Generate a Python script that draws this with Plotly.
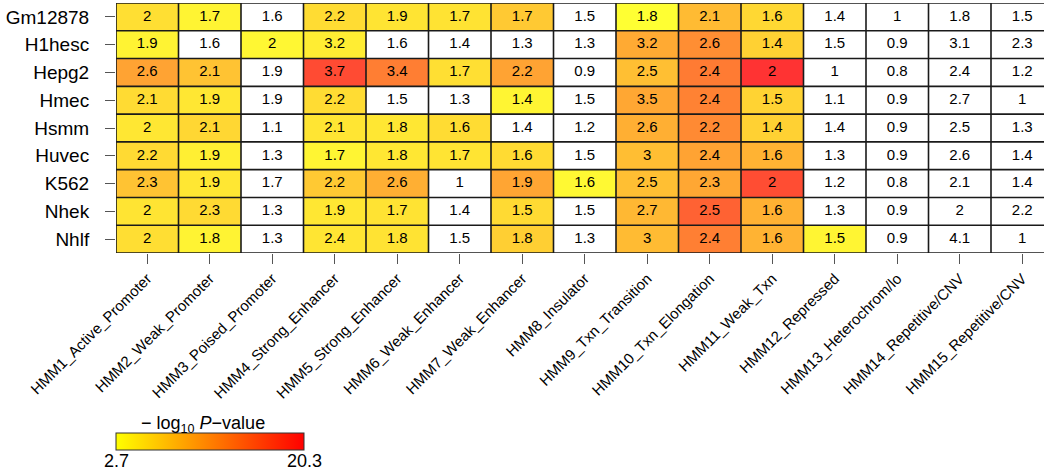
import plotly.graph_objects as go

# Cell lines (rows, top to bottom) and chromatin states (columns)
cell_lines = ["Gm12878", "H1hesc", "Hepg2", "Hmec", "Hsmm", "Huvec", "K562", "Nhek", "Nhlf"]
states = [
    "HMM1_Active_Promoter", "HMM2_Weak_Promoter", "HMM3_Poised_Promoter",
    "HMM4_Strong_Enhancer", "HMM5_Strong_Enhancer", "HMM6_Weak_Enhancer",
    "HMM7_Weak_Enhancer", "HMM8_Insulator", "HMM9_Txn_Transition",
    "HMM10_Txn_Elongation", "HMM11_Weak_Txn", "HMM12_Repressed",
    "HMM13_Heterochrom/lo", "HMM14_Repetitive/CNV", "HMM15_Repetitive/CNV",
]

# Fold enrichment printed in each cell
enrichment = [
    [2.0, 1.7, 1.6, 2.2, 1.9, 1.7, 1.7, 1.5, 1.8, 2.1, 1.6, 1.4, 1.0, 1.8, 1.5],
    [1.9, 1.6, 2.0, 3.2, 1.6, 1.4, 1.3, 1.3, 3.2, 2.6, 1.4, 1.5, 0.9, 3.1, 2.3],
    [2.6, 2.1, 1.9, 3.7, 3.4, 1.7, 2.2, 0.9, 2.5, 2.4, 2.0, 1.0, 0.8, 2.4, 1.2],
    [2.1, 1.9, 1.9, 2.2, 1.5, 1.3, 1.4, 1.5, 3.5, 2.4, 1.5, 1.1, 0.9, 2.7, 1.0],
    [2.0, 2.1, 1.1, 2.1, 1.8, 1.6, 1.4, 1.2, 2.6, 2.2, 1.4, 1.4, 0.9, 2.5, 1.3],
    [2.2, 1.9, 1.3, 1.7, 1.8, 1.7, 1.6, 1.5, 3.0, 2.4, 1.6, 1.3, 0.9, 2.6, 1.4],
    [2.3, 1.9, 1.7, 2.2, 2.6, 1.0, 1.9, 1.6, 2.5, 2.3, 2.0, 1.2, 0.8, 2.1, 1.4],
    [2.0, 2.3, 1.3, 1.9, 1.7, 1.4, 1.5, 1.5, 2.7, 2.5, 1.6, 1.3, 0.9, 2.0, 2.2],
    [2.0, 1.8, 1.3, 2.4, 1.8, 1.5, 1.8, 1.3, 3.0, 2.4, 1.6, 1.5, 0.9, 4.1, 1.0],
]

# -log10 P-value of significant cells (None = not significant, left white)
N = None
neglog10p = [
    [5.4, 3.6, N, 5.7, 5.0, 5.1, 7.3, N, 2.7, 8.6, 6.0, N, N, N, N],
    [3.7, N, 3.3, 4.2, N, N, N, N, 10.0, 12.4, 6.6, N, N, N, N],
    [10.6, 7.8, N, 18.2, 13.8, 5.4, 10.6, N, 8.2, 14.1, 20.3, N, N, N, N],
    [5.8, 4.7, N, 5.7, N, N, 3.5, N, 10.3, 13.5, 6.4, N, N, N, N],
    [4.7, 6.1, N, 4.9, 4.8, 5.7, N, N, 9.5, 12.8, 6.6, N, N, N, N],
    [5.9, 4.0, N, 3.5, 4.8, 5.0, 5.8, N, 8.3, 10.6, 9.2, N, N, N, N],
    [7.8, 4.8, N, 7.3, 9.6, N, 10.4, 3.2, 8.2, 10.2, 18.0, N, N, N, N],
    [5.0, 5.9, N, 4.7, 5.1, N, 5.9, N, 8.8, 16.2, 9.4, N, N, N, N],
    [5.5, 3.7, N, 4.9, 5.1, N, 6.8, N, 8.6, 13.7, 9.2, 3.5, N, N, N],
]

colorbar_ticks = [2.7, 20.3]
colorbar_title = "− log<sub>10</sub> <i>P</i>−value"

FONT = "Liberation Sans, Arial, sans-serif"
W, H = 1044, 472
M_L, M_T, M_B = 116, 3, 219
COL_W = 62.5   # pixel width of one column
CB_LEN = 188   # colour bar length in pixels
CB_THICK = 17  # colour bar thickness in pixels
CB_TOP = 433   # colour bar top edge, pixels from the top of the figure

n_rows, n_cols = len(cell_lines), len(states)
plot_w = W - M_L
plot_h = H - M_T - M_B
x_hi = -0.5 + plot_w / COL_W  # last column runs past the right edge


def paper_y(px):
    """Convert a pixel row (from figure top) to paper y."""
    return (H - M_B - px) / plot_h


cb_right = CB_LEN / plot_w

fig = go.Figure()

fig.add_trace(go.Heatmap(
    z=neglog10p,
    x=list(range(n_cols)),
    y=list(range(n_rows)),
    zmin=colorbar_ticks[0], zmax=colorbar_ticks[-1],
    colorscale=[[0, "#FFFF00"], [1, "#FF0000"]],
    opacity=0.8,
    hoverongaps=False,
    colorbar=dict(
        orientation="h",
        lenmode="pixels", len=CB_LEN,
        thickness=CB_THICK,
        x=0, xanchor="left", xpad=0,
        y=paper_y(CB_TOP), yanchor="top", ypad=0,
        outlinecolor="#333333", outlinewidth=1,
        tickvals=colorbar_ticks,
        ticks="", showticklabels=False,
    ),
))

# Enrichment labels on every cell
tx, ty, tt = [], [], []
for r in range(n_rows):
    for c in range(n_cols):
        tx.append(c)
        ty.append(r)
        tt.append(f"{enrichment[r][c]:g}")
fig.add_trace(go.Scatter(
    x=tx, y=ty, text=tt, mode="text",
    textfont=dict(family=FONT, size=15, color="black"),
    hoverinfo="skip", showlegend=False,
))

# Cell borders
shapes = []
for c in range(n_cols + 1):
    shapes.append(dict(type="line", xref="x", yref="y",
                       x0=c - 0.5, x1=c - 0.5, y0=-0.5, y1=n_rows - 0.5,
                       line=dict(color="#1a1a1a", width=1.6), layer="above"))
for r in range(n_rows + 1):
    shapes.append(dict(type="line", xref="x", yref="y",
                       x0=-0.5, x1=n_cols - 0.5, y0=r - 0.5, y1=r - 0.5,
                       line=dict(color="#1a1a1a", width=1.6), layer="above"))

# Colour bar title and end labels
annotations = [
    dict(text=colorbar_title, xref="paper", yref="paper",
         x=cb_right / 2 - 0.0075, y=paper_y(CB_TOP + 5), xanchor="center", yanchor="bottom",
         showarrow=False, font=dict(family=FONT, size=18, color="black")),
]
for frac, v in zip([0, cb_right], colorbar_ticks):
    annotations.append(dict(
        text=f"{v:g}", xref="paper", yref="paper",
        x=frac, y=paper_y(CB_TOP + CB_THICK - 1), xanchor="center", yanchor="top",
        showarrow=False, font=dict(family=FONT, size=18, color="black"),
    ))

fig.update_layout(
    width=W, height=H,
    margin=dict(l=M_L, r=0, t=M_T, b=M_B, pad=0),
    paper_bgcolor="white", plot_bgcolor="white",
    showlegend=False,
    shapes=shapes,
    annotations=annotations,
    xaxis=dict(
        range=[-0.5, x_hi],
        tickmode="array", tickvals=list(range(n_cols)), ticktext=states,
        tickangle=-45,
        ticks="outside", ticklen=10, tickcolor="#555555", tickwidth=1,
        tickfont=dict(family=FONT, size=15, color="black"),
        showgrid=False, zeroline=False, showline=False,
    ),
    yaxis=dict(
        range=[n_rows - 0.5, -0.5],
        tickmode="array", tickvals=list(range(n_rows)), ticktext=cell_lines,
        ticks="outside", ticklen=10, tickcolor="#555555", tickwidth=1,
        ticklabelstandoff=12,
        tickfont=dict(family=FONT, size=19, color="black"),
        showgrid=False, zeroline=False, showline=False,
    ),
)

fig.write_html("out.html")
